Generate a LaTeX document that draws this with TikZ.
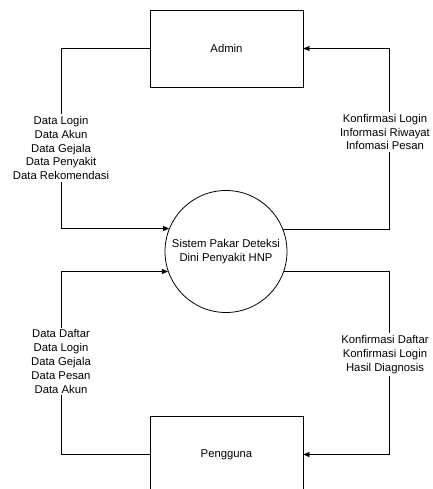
\documentclass[tikz,border=0pt]{standalone}
\usepackage{fontspec}
\setmainfont{Liberation Sans}
\usetikzlibrary{arrows.meta, positioning}

\begin{document}
\begin{tikzpicture}[x=1pt, y=-1pt,
  entity/.style={draw, line width=0.8pt, minimum width=153pt, minimum height=77pt, font=\fontsize{11.3}{13.8}\selectfont},
  process/.style={draw, circle, line width=0.8pt, minimum size=122pt, align=center, font=\fontsize{11.3}{13.8}\selectfont},
  flow/.style={-{Triangle[length=6pt, width=5pt]}, line width=0.8pt},
  lbl/.style={fill=white, align=center, inner sep=2pt, font=\fontsize{11.3}{13.8}\selectfont}
]
\useasboundingbox (0,0) rectangle (432,489);
\clip (0,0) rectangle (432,489);

% Entities and process
\node[entity] (admin) at (226.5, 48.5) {Admin};
\node[entity] (user) at (226.5, 454.5) {Pengguna};
\node[process] (sys) at (226, 251.5) {Sistem Pakar Deteksi\\Dini Penyakit HNP};

% Corners
\coordinate (lt) at (61, 48.5);
\coordinate (rt) at (389, 48.5);
\coordinate (lb) at (61, 454.5);
\coordinate (rb) at (389, 454.5);

% --- Flows Admin ---
\draw[flow] (admin.west) -- (lt) |- (sys.158.5);
\draw[flow] (sys.21.5) -| (rt) -- (admin.east);

% --- Flows Pengguna ---
\draw[flow] (user.west) -- (lb) |- (sys.199.5);
\draw[flow] (sys.-19.5) -| (rb) -- (user.east);

% --- Labels ---
\node[lbl] (inadmin) at (61, 148) {Data Login\\Data Akun\\Data Gejala\\Data Penyakit\\Data Rekomendasi};
\node[lbl] (outadmin) at (385, 132) {Konfirmasi Login\\Informasi Riwayat\\Infomasi Pesan};
\node[lbl] (inuser) at (61, 361.5) {Data Daftar\\Data Login\\Data Gejala\\Data Pesan\\Data Akun};
\node[lbl] (outuser) at (385, 354.5) {Konfirmasi Daftar\\Konfirmasi Login\\Hasil Diagnosis};

\end{tikzpicture}
\end{document}
